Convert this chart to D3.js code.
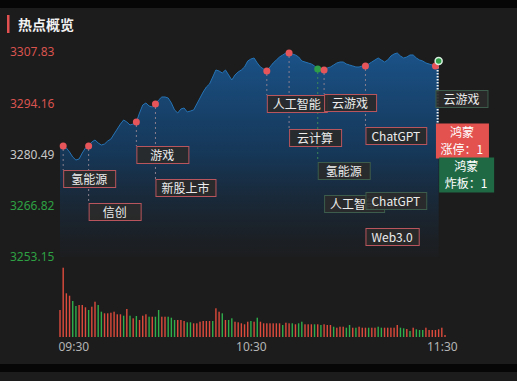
<!DOCTYPE html>
<html>
<head>
<meta charset="utf-8">
<script src="https://cdn.jsdelivr.net/npm/d3@7"></script>
<style>
  body { margin: 0; background: #1c1c1c; }
  svg { display: block; font-family: "Noto Sans CJK SC", "Noto Sans", sans-serif; }
</style>
</head>
<body>
<div id="chart"></div>
<script>
const svgWidth = 517;
const svgHeight = 381;

// intraday index price, one value per minute
const prices = [
  3282.76, 3282.76, 3282.22, 3281.16, 3279.82, 3279.02, 3279.29, 3280.89, 3282.22, 3282.76,
  3283.82, 3284.36, 3283.56, 3283.02, 3283.29, 3284.09, 3284.62, 3285.96, 3287.29, 3288.62,
  3289.69, 3289.16, 3288.36, 3288.62, 3289.16, 3291.56, 3293.69, 3294.23, 3293.43, 3293.16,
  3293.96, 3295.03, 3295.83, 3295.83, 3295.56, 3294.23, 3292.36, 3291.56, 3292.63, 3292.89,
  3291.83, 3292.09, 3292.36, 3293.96, 3295.56, 3297.16, 3298.49, 3299.29, 3301.16, 3303.03,
  3302.76, 3302.23, 3303.03, 3301.70, 3300.36, 3301.70, 3302.50, 3303.03, 3303.83, 3305.43,
  3305.96, 3306.23, 3304.90, 3303.83, 3303.30, 3302.76, 3303.83, 3304.90, 3305.70, 3306.50,
  3307.03, 3307.56, 3307.56, 3307.30, 3307.03, 3306.50, 3305.43, 3305.16, 3304.90, 3304.63,
  3304.10, 3303.30, 3303.30, 3303.03, 3303.56, 3303.83, 3304.36, 3304.90, 3305.16, 3305.16,
  3304.63, 3304.36, 3304.10, 3303.83, 3303.83, 3304.10, 3304.10, 3304.63, 3305.16, 3305.70,
  3306.23, 3305.70, 3305.16, 3305.70, 3306.76, 3307.30, 3307.56, 3306.76, 3306.23, 3306.50,
  3307.03, 3307.03, 3306.23, 3305.70, 3305.43, 3304.90, 3304.63, 3304.36, 3304.10, 3305.43
];

// volume per minute and its direction (r = up, g = down)
const volumes = [
  270, 693, 437, 413, 360, 310, 320, 320, 297, 270,
  303, 353, 320, 253, 237, 237, 243, 253, 227, 227,
  213, 280, 213, 187, 210, 170, 213, 227, 203, 203,
  203, 270, 203, 203, 203, 193, 170, 170, 170, 160,
  147, 147, 137, 137, 153, 160, 160, 160, 160, 287,
  253, 237, 170, 170, 187, 153, 147, 137, 127, 153,
  160, 153, 193, 153, 137, 137, 137, 137, 137, 137,
  120, 143, 137, 137, 127, 137, 153, 127, 127, 127,
  127, 127, 120, 127, 120, 120, 103, 93, 103, 103,
  93, 120, 93, 93, 103, 93, 93, 93, 93, 93,
  103, 93, 93, 93, 93, 93, 120, 93, 87, 80,
  60, 93, 77, 70, 70, 93, 70, 70, 70, 77,
  93, 20
];
const volumeDir = (
  "rrrrggrrrg" + "rrggrrrrrr" + "grgrgrrrgr" + "ggrrgggrrr" +
  "ggrrrrrrgr" + "rgrggrrrrr" + "grgrrrrrrr" + "grrgrggrrr" +
  "grgrrrgrrr" + "ggrgrrrgrr" + "ggrrrrrggr" + "grgggrrrrr" + "rr"
).split("");

const yTicks = [3307.83, 3294.16, 3280.49, 3266.82, 3253.15];
const prevClose = 3280.49;
const timeTicks = [0, 60, 120];
const timeLabels = ["09:30", "10:30", "11:30"];

// marked minutes on the line
const markIdx = [1, 9, 24, 30, 65, 72, 81, 83, 96, 118, 119];
const markDir = ["up", "up", "up", "up", "up", "up", "down", "up", "up", "up", "down"];

// hot topic events
const eventIdx = [1, 9, 24, 30, 65, 72, 83, 81, 83, 96, 96, 96, 118, 118, 119];
const eventDir = ["up", "up", "up", "up", "up", "up", "up", "down", "down", "up", "down", "up", "down", "limitUp", "limitDown"];
const eventLabel = ["氢能源", "信创", "游戏", "新股上市", "人工智能", "云计算", "云游戏", "氢能源", "人工智能",
  "ChatGPT", "ChatGPT", "Web3.0", "云游戏", "鸿蒙|涨停：1", "鸿蒙|炸板：1"];
// vertical slot of each label box (layout)
const labelTop = [170, 203, 146, 179, 95, 129, 94, 162, 195, 127, 192, 228, 90, 123, 157];

const red = "#e2504f";
const green = "#2f9e48";

const svg = d3.select("#chart")
  .append("svg")
  .attr("width", svgWidth)
  .attr("height", svgHeight);

// background bands
svg.append("rect").attr("width", svgWidth).attr("height", svgHeight).attr("fill", "#1c1c1c");
svg.append("rect").attr("width", svgWidth).attr("height", 8).attr("fill", "#060606");
svg.append("rect").attr("y", 364).attr("width", svgWidth).attr("height", 8).attr("fill", "#060606");

// title
svg.append("rect").attr("x", 7).attr("y", 15).attr("width", 2.5).attr("height", 18).attr("fill", red);
svg.append("text")
  .attr("x", 18).attr("y", 30)
  .attr("fill", "#f2f2f2")
  .attr("font-size", 14)
  .attr("font-weight", "bold")
  .text("热点概览");

// scales
const xScale = d3.scaleLinear().domain([0, 121]).range([60, 445]);
const yScale = d3.scaleLinear().domain([3253.15, 3307.83]).range([257, 52]);
const vScale = d3.scaleLinear().domain([0, 700]).range([337, 267]);

// price axis labels
const yAxis = svg.append("g")
  .attr("transform", "translate(4, 0)")
  .call(d3.axisRight(yScale).tickValues(yTicks).tickSize(0).tickPadding(6).tickFormat(d3.format(".2f")));
yAxis.select(".domain").remove();
yAxis.selectAll("text")
  .attr("font-size", 12)
  .attr("font-family", "Noto Sans, sans-serif")
  .attr("fill", d => d > prevClose + 0.01 ? "#d9534f" : d < prevClose - 0.01 ? "#2ea043" : "#c8c8c8");

// area + line
const grad = svg.append("defs").append("linearGradient")
  .attr("id", "areaGrad")
  .attr("gradientUnits", "userSpaceOnUse")
  .attr("x1", 0).attr("y1", 52).attr("x2", 0).attr("y2", 257);
grad.append("stop").attr("offset", 0).attr("stop-color", "#1a5288").attr("stop-opacity", 1);
grad.append("stop").attr("offset", 0.5).attr("stop-color", "#153a5e").attr("stop-opacity", 0.9);
grad.append("stop").attr("offset", 1).attr("stop-color", "#1c1e22").attr("stop-opacity", 0.5);

svg.append("path")
  .datum(prices)
  .attr("fill", "url(#areaGrad)")
  .attr("d", d3.area().x((d, i) => xScale(i)).y0(257).y1(d => yScale(d)));

svg.append("path")
  .datum(prices)
  .attr("fill", "none")
  .attr("stroke", "#2573b5")
  .attr("stroke-width", 1)
  .attr("d", d3.line().x((d, i) => xScale(i)).y(d => yScale(d)));

// volume bars
svg.append("g")
  .selectAll("rect")
  .data(volumes)
  .enter()
  .append("rect")
  .attr("x", (d, i) => xScale(i) - 0.7)
  .attr("y", d => vScale(d))
  .attr("width", 1.4)
  .attr("height", d => vScale(0) - vScale(d))
  .attr("fill", (d, i) => volumeDir[i] === "r" ? "#dd4b3c" : "#2fae4b");

// time axis
const xAxis = svg.append("g")
  .attr("transform", "translate(0, 337)")
  .call(d3.axisBottom(xScale).tickValues(timeTicks).tickSize(0).tickPadding(5)
    .tickFormat((d, i) => timeLabels[i]));
xAxis.select(".domain").remove();
xAxis.selectAll("text")
  .attr("font-size", 12)
  .attr("font-family", "Noto Sans, sans-serif")
  .attr("fill", "#b4b4b4")
  .attr("text-anchor", (d, i) => i === 0 ? "start" : "middle")
  .attr("dx", (d, i) => i === 0 ? -2 : 0);

// drop lines from marks to their first label box
const dropGroup = svg.append("g");
markIdx.forEach(function (idx, k) {
  const tops = labelTop.filter((t, j) => eventIdx[j] === idx && eventDir[j].indexOf("limit") < 0);
  const hasLimit = eventDir.some((dir, j) => eventIdx[j] === idx && dir.indexOf("limit") >= 0);
  if (!tops.length || hasLimit || idx >= 118) return;
  dropGroup.append("line")
    .attr("x1", xScale(idx)).attr("x2", xScale(idx))
    .attr("y1", yScale(prices[idx]) + 3)
    .attr("y2", d3.min(tops))
    .attr("stroke", markDir[k] === "up" ? "#8a7f8f" : "#3f8a58")
    .attr("stroke-width", 1)
    .attr("stroke-dasharray", "2,3");
});

// white dotted line for the limit-up/down stock
const limitTop = labelTop[eventDir.indexOf("limitUp")];
dropGroup.append("line")
  .attr("x1", xScale(119) - 1).attr("x2", xScale(119) - 1)
  .attr("y1", yScale(prices[119]))
  .attr("y2", limitTop)
  .attr("stroke", "#f0f0f0")
  .attr("stroke-width", 2)
  .attr("stroke-dasharray", "1.5,1.5");

// marks
svg.append("g")
  .selectAll("circle")
  .data(markIdx)
  .enter()
  .append("circle")
  .attr("cx", d => xScale(d))
  .attr("cy", d => yScale(prices[d]))
  .attr("r", 3.5)
  .attr("fill", (d, i) => markDir[i] === "up" ? "#e5555a" : green)
  .attr("stroke", (d, i) => i === markIdx.length - 1 ? "#d8efe0" : "none")
  .attr("stroke-width", 1.5);

// label boxes
const boxGroup = svg.append("g");
eventLabel.forEach(function (label, j) {
  const dir = eventDir[j];
  const left = xScale(eventIdx[j]);
  const top = labelTop[j];
  const g = boxGroup.append("g");
  const isLimit = dir.indexOf("limit") >= 0;
  const rect = g.append("rect")
    .attr("x", left + 0.5)
    .attr("y", top + 0.5);
  if (isLimit) {
    const lines = label.split("|");
    rect.attr("width", dir === "limitUp" ? 53 : 55)
      .attr("height", 35)
      .attr("fill", dir === "limitUp" ? "#e3524f" : "#1f6a45");
    const w = dir === "limitUp" ? 53 : 55;
    lines.forEach(function (line, n) {
      g.append("text")
        .attr("x", left + w / 2)
        .attr("y", top + 9.5 + n * 17)
        .attr("dy", "0.35em")
        .attr("text-anchor", "middle")
        .attr("font-size", 12)
        .attr("fill", "#ffffff")
        .text(line);
    });
  } else {
    const txt = g.append("text")
      .attr("y", top + 9.5)
      .attr("dy", "0.35em")
      .attr("text-anchor", "middle")
      .attr("font-size", 12)
      .attr("fill", "#ececec")
      .text(label);
    const w = Math.max(52, txt.node().getComputedTextLength() + 12);
    txt.attr("x", left + w / 2);
    rect.attr("width", w)
      .attr("height", 17)
      .attr("fill", "#2a2a2a")
      .attr("fill-opacity", 0.92)
      .attr("stroke", dir === "up" ? "#b9555c" : "#3d5c4b")
      .attr("stroke-width", 1);
    txt.raise();
  }
});
</script>
</body>
</html>
